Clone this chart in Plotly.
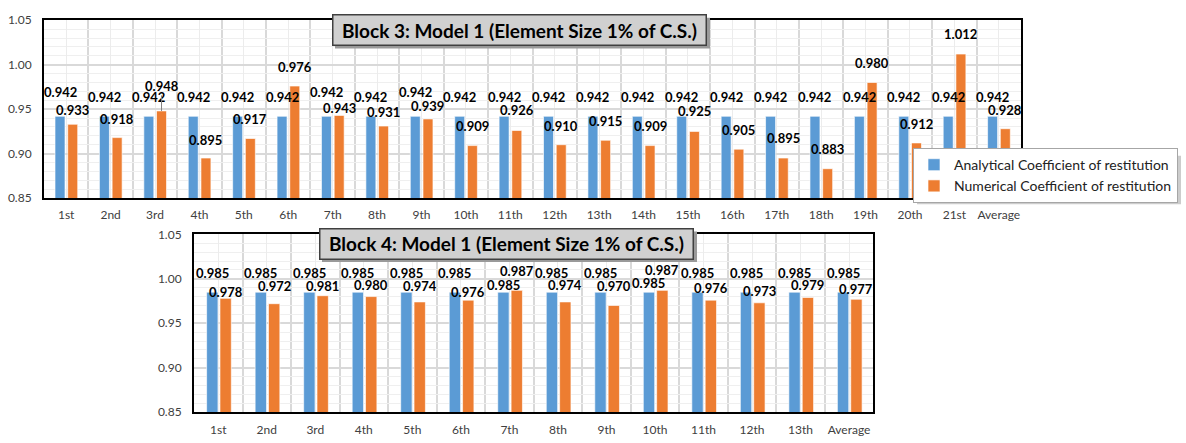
import plotly.graph_objects as go

W, H = 1186, 443

# ---------------- data ----------------
block3_categories = ["1st", "2nd", "3rd", "4th", "5th", "6th", "7th", "8th", "9th", "10th", "11th",
                     "12th", "13th", "14th", "15th", "16th", "17th", "18th", "19th", "20th", "21st", "Average"]
block3_analytical = [0.942, 0.942, 0.942, 0.942, 0.942, 0.942, 0.942, 0.942, 0.942, 0.942, 0.942,
                     0.942, 0.942, 0.942, 0.942, 0.942, 0.942, 0.942, 0.942, 0.942, 0.942, 0.942]
block3_numerical = [0.933, 0.918, 0.948, 0.895, 0.917, 0.976, 0.943, 0.931, 0.939, 0.909, 0.926,
                    0.910, 0.915, 0.909, 0.925, 0.905, 0.895, 0.883, 0.980, 0.912, 1.012, 0.928]

block4_categories = ["1st", "2nd", "3rd", "4th", "5th", "6th", "7th", "8th", "9th", "10th",
                     "11th", "12th", "13th", "Average"]
block4_analytical = [0.985, 0.985, 0.985, 0.985, 0.985, 0.985, 0.985, 0.985, 0.985, 0.985,
                     0.985, 0.985, 0.985, 0.985]
block4_numerical = [0.978, 0.972, 0.981, 0.980, 0.974, 0.976, 0.987, 0.974, 0.970, 0.987,
                    0.976, 0.973, 0.979, 0.977]

series_names = ["Analytical Coefficient of restitution", "Numerical Coefficient of restitution"]
titles = ["Block 3: Model 1 (Element Size 1% of C.S.)", "Block 4: Model 1 (Element Size 1% of C.S.)"]

# ---------------- styling ----------------
FONT = "Lato"
BLUE = "#5B9BD5"
ORANGE = "#ED7D31"
# label vertical offsets (px above bar top), mimicking the hand-placed Excel labels
b3_blue_shift = [24, 19.5, 19.5, 19.5, 19.5, 19.5, 24, 19.5, 24, 19.5, 19.5,
                 19.5, 19.5, 19.5, 19.5, 19.5, 19.5, 19.5, 19.5, 19.5, 19.5, 19.5]
b3_orange_shift = [14, 19, 25, 18, 19, 19, 7, 14, 13, 20, 20, 19, 19, 20, 20, 19, 20, 20, 19, 19, 20, 19]
b4_blue_shift = [19, 19, 19, 19, 19, 19, 7.5, 19, 19, 9, 19, 19, 19, 19]
b4_orange_shift = [6.5, 18, 9.5, 12, 16, 8.4, 19.6, 17, 19, 20, 12, 12, 12, 10]

panels = [
    dict(cats=block3_categories, a=block3_analytical, n=block3_numerical,
         xdom=(44, 1021), ydom=(12.7, 196.7), bw=0.225, boff=(-0.252, 0.034),
         bshift=b3_blue_shift, oshift=b3_orange_shift, title=titles[0],
         tbox=(332, 707, 7, 39), leader=2, showlegend=True),
    dict(cats=block4_categories, a=block4_analytical, n=block4_numerical,
         xdom=(194, 873.3), ydom=(234.3, 418.3), bw=0.234, boff=(-0.24, 0.035),
         bshift=b4_blue_shift, oshift=b4_orange_shift, title=titles[1],
         tbox=(319, 694, 228.3, 260), leader=None, showlegend=False),
]

fig = go.Figure()
annotations = []
shapes = []

for k, p in enumerate(panels):
    xa = "x" if k == 0 else "x2"
    ya = "y" if k == 0 else "y2"
    n = len(p["cats"])
    xs = list(range(n))
    for s, (vals, col, off) in enumerate([(p["a"], BLUE, p["boff"][0]), (p["n"], ORANGE, p["boff"][1])]):
        fig.add_trace(go.Bar(
            x=xs, y=vals, name=series_names[s], xaxis=xa, yaxis=ya,
            width=p["bw"], offset=off,
            marker=dict(color=col, line=dict(color="rgba(255,255,255,0.8)", width=0.8)),
            showlegend=p["showlegend"],
            hoverinfo="x+y",
        ))
        shifts = p["bshift"] if s == 0 else p["oshift"]
        for i, v in enumerate(vals):
            cx = i + off + p["bw"] / 2
            ann = dict(x=cx, y=v, xref=xa, yref=ya, text=f"{v:.3f}",
                       font=dict(family=FONT, size=13, color="black", weight="bold"),
                       xanchor="center", yanchor="middle")
            if s == 1 and p["leader"] == i:
                ann.update(showarrow=True, arrowhead=0, arrowwidth=1, arrowcolor="#808080",
                           ax=0, ay=-shifts[i], standoff=0)
            else:
                ann.update(showarrow=False, yshift=shifts[i])
            annotations.append(ann)

    # title box with shadow
    x0, x1, y0, y1 = p["tbox"]
    shapes.append(dict(type="rect", xref="paper", yref="paper", layer="above",
                       x0=(x0 + 3) / W, x1=(x1 + 3) / W, y0=1 - (y1 + 3) / H, y1=1 - (y0 + 3) / H,
                       fillcolor="#9a9a9a", line=dict(width=0)))
    cxp = (x0 + x1) / 2 / W
    cyp = 1 - (y0 + y1) / 2 / H
    annotations.append(dict(x=cxp, y=cyp, xref="paper", yref="paper",
                            text=p["title"], showarrow=False,
                            width=x1 - x0 - 3, height=y1 - y0 - 3, borderpad=0,
                            bgcolor="#d0d0d0", bordercolor="#404040", borderwidth=1.5,
                            font=dict(family=FONT, size=19, color="black", weight="bold"),
                            xanchor="center", yanchor="middle"))

    xkey = "xaxis" if k == 0 else "xaxis2"
    ykey = "yaxis" if k == 0 else "yaxis2"
    fig.update_layout(**{
        xkey: dict(domain=[p["xdom"][0] / W, p["xdom"][1] / W], anchor=ya,
                   range=[-0.5, n - 0.5], tickmode="array", tickvals=xs, ticktext=p["cats"],
                   showgrid=True, gridcolor="#ececec", gridwidth=1, zeroline=False,
                   showline=True, linecolor="black", linewidth=2, mirror=True, ticks="",
                   ticklabelstandoff=5,
                   tickfont=dict(family=FONT, size=12, color="#404040"),
                   minor=dict(tickmode="array", tickvals=[i - 0.5 for i in range(n + 1)],
                              showgrid=True, gridcolor="#d9d9d9", gridwidth=1.5, ticks=""),
                   fixedrange=True),
        ykey: dict(domain=[1 - p["ydom"][1] / H, 1 - p["ydom"][0] / H], anchor=xa,
                   range=[0.85, 1.05], tickmode="linear", tick0=0.85, dtick=0.05, tickformat=".2f",
                   showgrid=True, gridcolor="#d9d9d9", gridwidth=1.5, zeroline=False,
                   showline=True, linecolor="black", linewidth=2, mirror=True, ticks="",
                   ticklabelstandoff=8,
                   tickfont=dict(family=FONT, size=12, color="#404040"),
                   minor=dict(dtick=0.01, showgrid=True, gridcolor="#efefef", gridwidth=1, ticks=""),
                   fixedrange=True),
    })

# soft shadow behind the legend box
shapes.append(dict(type="rect", xref="paper", yref="paper", layer="above",
                   x0=917 / W, x1=1181 / W, y0=1 - 203 / H, y1=1 - 153 / H,
                   fillcolor="#cccccc", line=dict(width=0)))

fig.update_layout(
    width=W, height=H, autosize=False,
    margin=dict(l=0, r=0, t=0, b=0),
    paper_bgcolor="white", plot_bgcolor="white",
    barmode="overlay",
    font=dict(family=FONT, size=12, color="#404040"),
    annotations=annotations,
    shapes=shapes,
    showlegend=True,
    legend=dict(x=913 / W, y=1 - 145 / H, xanchor="left", yanchor="top",
                bgcolor="white", bordercolor="#a6a6a6", borderwidth=1,
                font=dict(family=FONT, size=14, color="#222222"),
                itemwidth=30, tracegroupgap=0),
)

fig.write_html("out.html", config={"displayModeBar": False},
               post_script="document.body.style.margin='0';")
